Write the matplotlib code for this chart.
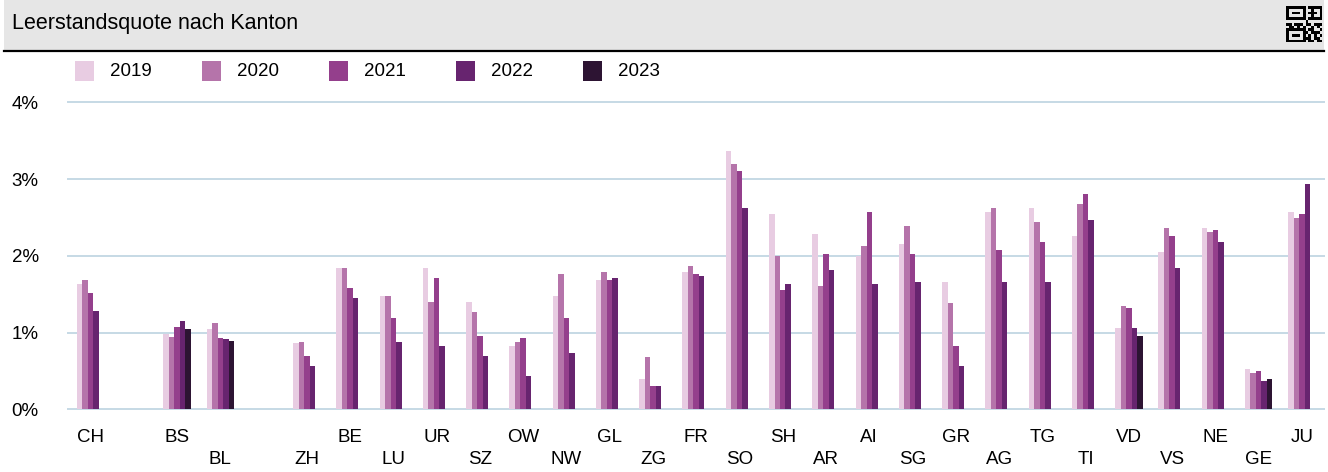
import numpy as np
import matplotlib
matplotlib.use("Agg")
import matplotlib.pyplot as plt
from matplotlib.patches import Rectangle
from matplotlib.transforms import blended_transform_factory

plt.rcParams["font.family"] = ["Liberation Sans", "DejaVu Sans"]

# Leerstandsquote in %, leere Einträge = Abstand zwischen Gruppen
kantone = ["CH", "", "BS", "BL", "", "ZH", "BE", "LU", "UR", "SZ", "OW", "NW", "GL",
           "ZG", "FR", "SO", "SH", "AR", "AI", "SG", "GR", "AG", "TG", "TI", "VD",
           "VS", "NE", "GE", "JU"]
years = ["2019", "2020", "2021", "2022", "2023"]
nan = np.nan
q2019 = [1.63, nan, 0.98, 1.04, nan, 0.86, 1.84, 1.48, 1.84, 1.40, 0.83, 1.48, 1.69,
         0.39, 1.79, 3.37, 2.55, 2.28, 2.00, 2.15, 1.66, 2.57, 2.62, 2.26, 1.06,
         2.05, 2.36, 0.52, 2.57]
q2020 = [1.69, nan, 0.94, 1.12, nan, 0.88, 1.84, 1.48, 1.40, 1.27, 0.88, 1.76, 1.79,
         0.68, 1.87, 3.19, 2.00, 1.61, 2.13, 2.39, 1.38, 2.62, 2.44, 2.68, 1.35,
         2.36, 2.31, 0.47, 2.49]
q2021 = [1.51, nan, 1.07, 0.93, nan, 0.70, 1.58, 1.19, 1.71, 0.96, 0.93, 1.19, 1.69,
         0.31, 1.76, 3.11, 1.56, 2.02, 2.57, 2.02, 0.83, 2.08, 2.18, 2.80, 1.32,
         2.26, 2.34, 0.50, 2.55]
q2022 = [1.28, nan, 1.15, 0.91, nan, 0.57, 1.45, 0.88, 0.83, 0.70, 0.44, 0.73, 1.71,
         0.31, 1.74, 2.62, 1.63, 1.82, 1.63, 1.66, 0.57, 1.66, 1.66, 2.47, 1.06,
         1.84, 2.18, 0.37, 2.93]
q2023 = [nan, nan, 1.04, 0.89, nan, nan, nan, nan, nan, nan, nan, nan, nan,
         nan, nan, nan, nan, nan, nan, nan, nan, nan, nan, nan, 0.96,
         nan, nan, 0.39, nan]
y_ticks = [0, 1, 2, 3, 4]
y_labels = ["0%", "1%", "2%", "3%", "4%"]

colors = ["#e8cce2", "#b574aa", "#943f8c", "#67246f", "#2d1433"]
grid_col = "#c6d9e5"

W, H = 1328, 472
fig = plt.figure(figsize=(W / 100, H / 100), dpi=100)

def px(x, y):
    return x / W, 1 - y / H

# Kopfzeile
fig.patches.append(Rectangle(px(4, 50), 1320 / W, 50 / H, transform=fig.transFigure,
                             facecolor="#e6e6e6", edgecolor="none", zorder=0))
fig.add_artist(plt.Line2D([4 / W, 1324 / W], [1 - 51 / H] * 2, color="black", lw=1.6))
fig.text(*px(12, 23), "Leerstandsquote nach Kanton", fontsize=15.5, va="center", ha="left")

# kleines QR-Symbol oben rechts
qr = ["1111111011111",
      "1000001001001",
      "1011101011101",
      "1000001001001",
      "1111111011111",
      "0000000100000",
      "1101110110111",
      "0110101001010",
      "1111111011001",
      "1000001101110",
      "1011101010101",
      "1000001110110",
      "1111111011011"]
cell = 2.8
for r, row in enumerate(qr):
    for c, ch in enumerate(row):
        if ch == "1":
            fig.patches.append(Rectangle(px(1286 + c * cell, 6 + (r + 1) * cell), cell / W, cell / H,
                                         transform=fig.transFigure, facecolor="black",
                                         edgecolor="none"))

# Legende
for i, (yr, col) in enumerate(zip(years, colors)):
    x0 = 75 + i * 127
    fig.patches.append(Rectangle(px(x0, 81), 19 / W, 20 / H, transform=fig.transFigure,
                                 facecolor=col, edgecolor="none"))
    fig.text(*px(x0 + 35, 72), yr, fontsize=13.5, va="center", ha="left")

ax = fig.add_axes([68 / W, 1 - 409.3 / H, (1324 - 68) / W, (409.3 - 102.3) / H])

x = np.arange(len(kantone))
w = 0.127
for k, vals in enumerate([q2019, q2020, q2021, q2022, q2023]):
    ax.bar(x + (k - 2) * w, vals, width=w, color=colors[k], zorder=3, linewidth=0)

ax.set_xlim(-0.52, len(kantone) - 0.49)
ax.set_ylim(0, 4)
ax.set_yticks(y_ticks)
ax.set_yticklabels(y_labels, fontsize=13.5)
ax.tick_params(axis="y", length=0, pad=21)
ax.set_xticks([])
for yv in y_ticks:
    ax.axhline(yv, color=grid_col, lw=1.4, zorder=1, clip_on=False)
for s in ax.spines.values():
    s.set_visible(False)

# Kantonskürzel abwechselnd auf zwei Zeilen
tr = blended_transform_factory(ax.transData, fig.transFigure)
for i, name in enumerate(kantone):
    if not name:
        continue
    yy = 1 - (438 if i % 2 == 0 else 460) / H
    ax.text(i, yy, name, transform=tr, ha="center", va="center", fontsize=13.5)

fig.savefig("out.png", dpi=100)
